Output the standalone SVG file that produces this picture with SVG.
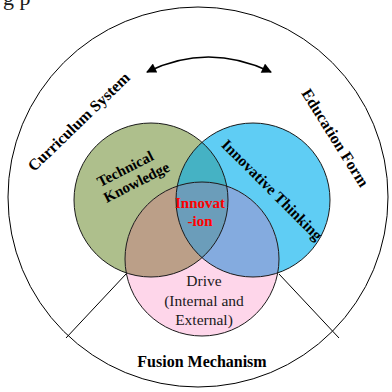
<svg xmlns="http://www.w3.org/2000/svg" width="392" height="392" viewBox="0 0 392 392">
<style>
.ring{fill:none;stroke:#000;stroke-width:1}
.ol{fill:none;stroke:#1a1a1a;stroke-width:1}
.b{font-family:"Liberation Serif",serif;font-weight:bold;fill:#000}
.r{font-family:"Liberation Serif",serif;fill:#1a1a1a}
.red{font-family:"Liberation Serif",serif;font-weight:bold;fill:#ff0000}
</style>
<defs>
<clipPath id="cg"><circle cx="151" cy="200" r="77"/></clipPath>
<clipPath id="cb"><circle cx="253" cy="200" r="77"/></clipPath>
<marker id="ah" viewBox="0 0 10 10" refX="9" refY="5" markerWidth="11" markerHeight="10" markerUnits="userSpaceOnUse" orient="auto-start-reverse">
<path d="M0,0 L10,5 L0,10 Z" fill="#000"/>
</marker>
</defs>
<rect width="392" height="392" fill="#fff"/>
<text class="r" x="3" y="5" font-size="22">g p</text>
<g id="outer">
<circle class="ring" cx="198" cy="197" r="190"/>
</g>
<g id="connectors">
<line class="ring" x1="126" y1="274" x2="66" y2="338"/>
<line class="ring" x1="279" y1="274" x2="339" y2="338"/>
<path d="M147,72 Q208,42 271,72" fill="none" stroke="#000" stroke-width="1.6" marker-start="url(#ah)" marker-end="url(#ah)"/>
</g>
<g id="venn">
<circle cx="151" cy="200" r="77" fill="#aebf8c"/>
<circle cx="253" cy="200" r="77" fill="#5fcdf4"/>
<circle cx="202" cy="259" r="77" fill="#fed6ea"/>
<circle cx="253" cy="200" r="77" fill="#45b2c4" clip-path="url(#cg)"/>
<circle cx="202" cy="259" r="77" fill="#bb9f88" clip-path="url(#cg)"/>
<circle cx="202" cy="259" r="77" fill="#84abdf" clip-path="url(#cb)"/>
<g clip-path="url(#cg)"><circle cx="202" cy="259" r="77" fill="#6b9dba" clip-path="url(#cb)"/></g>
<circle class="ol" cx="151" cy="200" r="77"/>
<circle class="ol" cx="253" cy="200" r="77"/>
<circle class="ol" cx="202" cy="259" r="77"/>
</g>
<g id="curriculum">
<text class="b" font-size="16" text-anchor="middle" transform="translate(79,122) rotate(-44)" y="5">Curriculum System</text>
</g>
<g id="education">
<text class="b" font-size="16" text-anchor="middle" transform="translate(335,138) rotate(58)" y="5">Education Form</text>
</g>
<g id="technical">
<g transform="translate(131,176) rotate(-27)">
<text class="b" font-size="15" text-anchor="middle" x="-2" y="-4">Technical</text>
<text class="b" font-size="15" text-anchor="middle" x="2" y="13">Knowledge</text>
</g>
</g>
<g id="innovative">
<text class="b" font-size="15.5" text-anchor="middle" transform="translate(272,190) rotate(45)" y="5">Innovative Thinking</text>
</g>
<g id="innovation">
<text class="red" font-size="15" text-anchor="middle" x="200" y="208">Innovat</text>
<text class="red" font-size="15" text-anchor="middle" x="200" y="226">-ion</text>
</g>
<g id="drive">
<text class="r" font-size="15.5" text-anchor="middle" x="204" y="286">Drive</text>
<text class="r" font-size="15.5" text-anchor="middle" x="204" y="306">(Internal and</text>
<text class="r" font-size="15.5" text-anchor="middle" x="204" y="325">External)</text>
</g>
<g id="fusion">
<text class="b" font-size="16" text-anchor="middle" x="202" y="367">Fusion Mechanism</text>
</g>
</svg>
